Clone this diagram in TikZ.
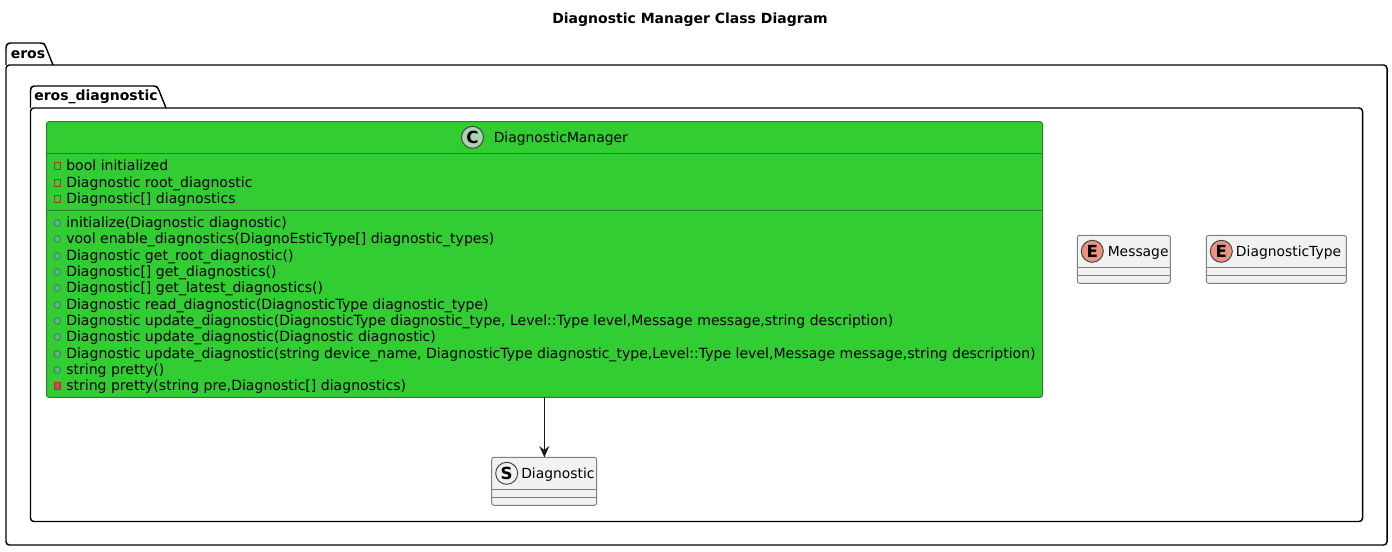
\documentclass[tikz,border=0pt]{standalone}
\usepackage{fontspec}
\setmainfont{DejaVu Sans}
\definecolor{gbody}{HTML}{32CD32}
\definecolor{gline}{HTML}{2B7F30}
\definecolor{bx}{HTML}{F1F1F1}
\definecolor{bxl}{HTML}{808080}
\definecolor{enumc}{HTML}{EB937F}
\definecolor{cirC}{HTML}{ADD1B2}
\definecolor{privc}{HTML}{C82930}
\definecolor{pubc}{HTML}{2F7F62}
\definecolor{pubf}{HTML}{62B57C}
\newcommand{\memberfont}{\fontsize{10.54pt}{12pt}\selectfont}
\tikzset{
 x=0.75pt,y=-0.75pt,
 pkg/.style={draw=black,line width=1.1pt,line join=round},
 pkgname/.style={anchor=base west,inner sep=0pt,font=\fontsize{10.5pt}{12pt}\selectfont\bfseries},
 member/.style={anchor=base west,inner sep=0pt,font=\memberfont},
 classname/.style={anchor=base west,inner sep=0pt,font=\fontsize{10.4pt}{12pt}\selectfont},
 stereo/.style={circle,draw=black!75,line width=0.7pt,minimum size=16.5pt,inner sep=0pt,font=\fontsize{12.5pt}{12pt}\selectfont\bfseries},
 privi/.style={draw=privc,line width=0.6pt,minimum size=4.7pt,inner sep=0pt,rectangle},
 privm/.style={draw=privc,fill=privc!85!white,line width=0.6pt,minimum size=4.7pt,inner sep=0pt,rectangle},
 pubm/.style={draw=pubc,fill=pubf,line width=0.6pt,minimum size=4.9pt,inner sep=0pt,circle},
 boxout/.style={draw=bxl,fill=bx,line width=0.75pt,rounded corners=1.8pt},
 boxline/.style={draw=bxl,line width=0.75pt},
 mgrline/.style={draw=gline,line width=0.75pt},
}
\begin{document}
\begin{tikzpicture}
\useasboundingbox (0,0) rectangle (1392,551);
\node[anchor=base,inner sep=0pt,font=\fontsize{10.5pt}{12pt}\selectfont\bfseries] (title) at (690,23) {Diagnostic Manager Class Diagram};
% outer package
\draw[pkg,rounded corners=1.8pt] (6,65) -- (6,46) -- (8,43) -- (43,43) -- (45,45) -- (53,65);
\draw[pkg,rounded corners=2.5pt] (6,65) -- (1387,65) -- (1387,545) -- (6,545) -- cycle;
\node[pkgname] (erosname) at (10.5,58.5) {eros};
% inner package
\draw[pkg,rounded corners=1.8pt] (30.5,108) -- (30.5,89) -- (32,86) -- (156,86) -- (158,88) -- (166,108);
\draw[pkg,rounded corners=2.5pt] (30.5,108) -- (1362.5,108) -- (1362.5,521.5) -- (30.5,521.5) -- cycle;
\node[pkgname] (diagname) at (34,100.7) {eros\_diagnostic};
% manager
\draw[draw=gline,fill=gbody,line width=0.75pt,rounded corners=1.8pt] (46.5,121.7) rectangle (1042.5,397.3);
\coordinate (mgrbot) at (544.3,397.3);
\draw[mgrline] (46.5,153.5) -- (1042.5,153.5);
\draw[mgrline] (46.5,210.5) -- (1042.5,210.5);
\node[stereo,fill=cirC] (cc) at (472.5,137.3) {C};
\node[classname] (mgr) at (493.5,142.5) {DiagnosticManager};
\foreach \y/\t in {
 170/bool initialized,
 187/Diagnostic root\_diagnostic,
 203/Diagnostic[] diagnostics}{
 \node[privi] at (57.3,\y-4) {};
 \node[member] at (66,\y) {\t};
}
\foreach \y/\t in {
 227/initialize(Diagnostic diagnostic),
 243/vool enable\_diagnostics(DiagnoEsticType[] diagnostic\_types),
 260/Diagnostic get\_root\_diagnostic(),
 276/Diagnostic[] get\_diagnostics(),
 292/Diagnostic[] get\_latest\_diagnostics(),
 309/Diagnostic read\_diagnostic(DiagnosticType diagnostic\_type),
 325/{Diagnostic update\_diagnostic(DiagnosticType diagnostic\_type, Level::Type level,Message message,string description)},
 341/Diagnostic update\_diagnostic(Diagnostic diagnostic),
 358/{Diagnostic update\_diagnostic(string device\_name, DiagnosticType diagnostic\_type,Level::Type level,Message message,string description)},
 374/string pretty()}{
 \node[pubm] at (57.3,\y-4) {};
 \node[member] at (66,\y) {\t};
}
\node[privm] at (57.3,386) {};
\node[member] at (66,390) {string pretty(string pre,Diagnostic[] diagnostics)};
% Diagnostic
\draw[boxout] (491.7,457.3) rectangle (596.7,505.3);
\draw[boxline] (491.7,489.3) -- (596.7,489.3);
\draw[boxline] (491.7,497.3) -- (596.7,497.3);
\node[stereo,fill=bx] (sc) at (506.7,473.3) {S};
\node[classname] (diag) at (521,478.3) {Diagnostic};
\coordinate (diagtop) at (544.3,457.3);
% Message
\draw[boxout] (1077.3,235.3) rectangle (1170.3,283.3);
\draw[boxline] (1077.3,267.3) -- (1170.3,267.3);
\draw[boxline] (1077.3,275.3) -- (1170.3,275.3);
\node[stereo,fill=enumc] (me) at (1092.3,251.3) {E};
\node[classname] (msg) at (1107.5,256.3) {Message};
% DiagnosticType
\draw[boxout] (1206.3,235.3) rectangle (1346.3,283.3);
\draw[boxline] (1206.3,267.3) -- (1346.3,267.3);
\draw[boxline] (1206.3,275.3) -- (1346.3,275.3);
\node[stereo,fill=enumc] (te) at (1221.3,251.3) {E};
\node[classname] (dtype) at (1235.7,256.3) {DiagnosticType};
% arrow
\draw[black!90,line width=0.75pt] (mgrbot) -- (diagtop);
\fill[black!90] (544.3,457.3) -- (539.3,446) -- (544.3,450) -- (549.3,446) -- cycle;
\end{tikzpicture}
\end{document}
